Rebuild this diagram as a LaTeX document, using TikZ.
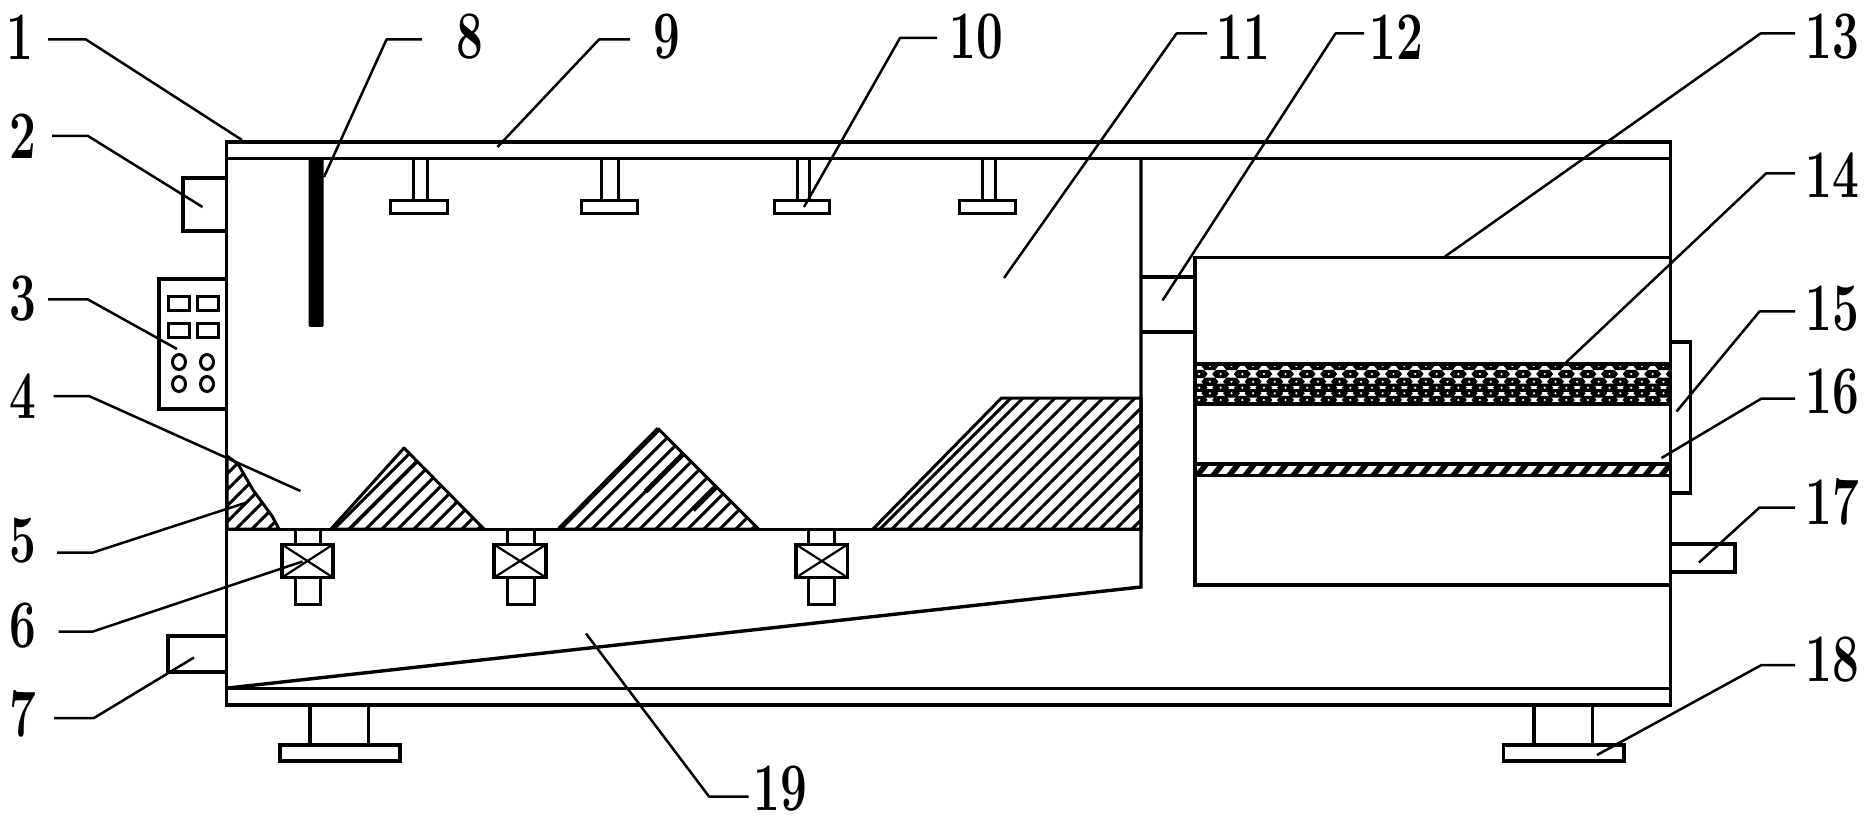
\documentclass[tikz,border=0pt]{standalone}
\tikzset{
  every picture/.style={x=1pt,y=-1pt},
  wall/.style={line width=3.4pt,line cap=butt,line join=miter},
  thin wall/.style={line width=3pt},
  hatchline/.style={line width=3pt},
  leader/.style={line width=2.5pt,line join=round},
  num/.style={inner sep=0pt,font=\fontsize{68}{68}\bfseries\selectfont},
}
\newcommand\lead[5]{%
  \node[num] (n#1) at (#2) {\scalebox{.7}[1]{#1}};
  \coordinate (s#1) at (#3);
  \coordinate (e#1) at (#4);
  \coordinate (t#1) at (#5);
  \draw[leader] (s#1) -- (e#1) -- (t#1);}
\newcommand\hatchfill[2]{%
  \begin{scope}
    \clip #1;
    \foreach \k in {#2} {\draw[hatchline] (\k,535) -- ++(150,-150);}
  \end{scope}
  \draw[thin wall,line join=round] #1;}
\newcommand\blob[2]{%
  \fill (#1-8.5,#2) -- ++(3.5,-4.2) -- ++(10,0) -- ++(3.5,4.2) -- ++(-3.5,4.2) -- ++(-10,0) -- cycle;
  \fill[white] (#1,#2) circle (1.2pt);}
\begin{document}
\begin{tikzpicture}
\useasboundingbox (0,0) rectangle (1864,818);
\fill[white] (0,0) rectangle (1864,818);

% outer body
\draw[wall] (226.5,142) rectangle (1670.5,705);
\draw[wall] (226.5,158.5) -- (1670.5,158.5);
\draw[wall] (226.5,688.5) -- (1670.5,688.5);

% side attachments
\draw[wall] (226,178) -| (183,231) -- (226,231);
\draw[wall] (226,279) -| (159,409) -- (226,409);
\foreach \x in {168,197} {
  \draw[thin wall] (\x,297) rectangle ++(21,14);
  \draw[thin wall] (\x,323.5) rectangle ++(21,14);
}
\foreach \x in {179,207} \foreach \y in {362,384}
  \draw[thin wall] (\x,\y) ellipse (6.5pt and 7.5pt);
\draw[wall] (226,636) -| (168,672) -- (226,672);

% probe 8
\fill[rounded corners=1.5pt] (308.5,158) rectangle (323.5,327);

% nozzles 10
\foreach \a/\b/\c/\d in {413/427/390/447, 601/618/581/637, 797/809/774/829.5, 982/995/959/1015} {
  \draw[thin wall] (\a,158) -- (\a,200) (\b,158) -- (\b,200);
  \draw[thin wall] (\c,200.5) rectangle (\d,214);
}

% divider, floor, sloped bottom
\draw[wall] (1141,158) -- (1141,587) -- (228,688);
\draw[wall] (226,529.5) -- (1142,529.5);

% valves 6
\foreach \a/\b/\c/\d in {295/320.5/282/333, 507/534/494/546, 808.5/834.5/796/847.5} {
  \draw[thin wall] (\a,530) -- (\a,544) (\b,530) -- (\b,544);
  \draw[thin wall] (\a,578) -- (\a,604) -- (\b,604) -- (\b,578);
  \draw[wall] (\c,544.5) rectangle (\d,577.5);
  \draw[line width=2.2pt] (\c,544.5) -- (\d,577.5) (\c,577.5) -- (\d,544.5);
}

% hatched mounds
\hatchfill{(227,456) -- (238,464) -- (253,490) -- (272,516) -- (279,529) -- (227,529) -- cycle}{150,166,...,280}
\hatchfill{(331,529) -- (404,448) -- (484,529) -- cycle}{328,344,...,480,343}
\hatchfill{(559.5,529) -- (658.5,429) -- (758.5,529) -- cycle}{522,538,...,780}
\hatchfill{(873,529) -- (1001.5,398) -- (1141,398) -- (1141,529) -- cycle}{874,886,902,...,1266}
\draw[line width=5pt] (559.5,529) -- (658.5,429);
\draw[line width=5pt] (645.7,491.5) -- (683,454.2) (693,510) -- (717,486);

% pipe 12
\draw[wall] (1141,277) -- (1195,277) (1141,332) -- (1195,332);

% filter box
\draw[wall] (1670,257.5) -- (1195,257.5) -- (1195,585) -- (1670,585);

% layer 14
\begin{scope}
  \clip (1197,364) rectangle (1669,404);
  \foreach \i in {-1,...,22} {
    \foreach \y in {366,381.7,393.3} {\blob{1209.9+\i*21.6}{\y}}
    \foreach \y in {374,387.7,400} {\blob{1220.7+\i*21.6}{\y}}
  }
\end{scope}
\draw[line width=4pt] (1195,364.5) -- (1670,364.5) (1195,403.5) -- (1670,403.5);

% layer 16
\begin{scope}
  \clip (1197,463) rectangle (1669,476);
  \foreach \i in {0,...,30} {
    \draw[line width=5.5pt] (1195+\i*16,478) -- ++(14,-17);
  }
\end{scope}
\draw[line width=3.6pt] (1195,464) -- (1670,464) (1195,475.5) -- (1670,475.5);

% plate 15, outlet 17
\draw[wall] (1670,342) -| (1690.5,493) -- (1670,493);
\draw[wall] (1670,544) -| (1735,572) -- (1670,572);

% feet 18
\draw[wall] (310,705) -- (310,745) (368.5,705) -- (368.5,745);
\draw[wall] (280,745) rectangle (400,761);
\draw[wall] (1534,705) -- (1534,745) (1592.5,705) -- (1592.5,745);
\draw[wall] (1503.5,745) rectangle (1624,761);

% labels and leaders
\lead{1}{20,37}{48,39.5}{86,39.5}{242,140}
\lead{2}{22.5,136}{52,136}{88,136}{202.5,207}
\lead{3}{23,299}{48,299.5}{88,299.5}{177,349}
\lead{4}{23,396}{53.5,396}{89,396}{300.5,491}
\lead{5}{23,541}{57,552.5}{93,552.5}{245,503}
\lead{6}{23,626}{58.5,631.5}{93,631.5}{302.5,561.5}
\lead{7}{23,714}{54,718}{94,718}{194,657.5}
\lead{8}{470,37}{422,39.5}{386.5,39.5}{324,177}
\lead{9}{666.5,37}{630,39.5}{599,39.5}{497.5,147}
\lead{10}{976,37}{937,38}{900,38}{804,207}
\lead{11}{1243,37}{1207,33.5}{1176.5,33.5}{1004,278}
\lead{12}{1396,37}{1364,33.5}{1335.5,33.5}{1162.5,300.5}
\lead{13}{1832,37}{1795,33.5}{1760.5,33.5}{1445,256.5}
\lead{14}{1832,175}{1795,173.5}{1766,173.5}{1566,362.5}
\lead{15}{1832,309}{1795,311.5}{1759.5,311.5}{1676.5,411.5}
\lead{16}{1832,392}{1795,398.5}{1761.5,398.5}{1661.5,458}
\lead{17}{1832,502}{1795,507.5}{1759.5,507.5}{1699,562.5}
\lead{18}{1832,660}{1795,665}{1761.5,665}{1597,755}
\lead{19}{780,789}{748.5,796.5}{709,796.5}{586,633.5}
\end{tikzpicture}
\end{document}
